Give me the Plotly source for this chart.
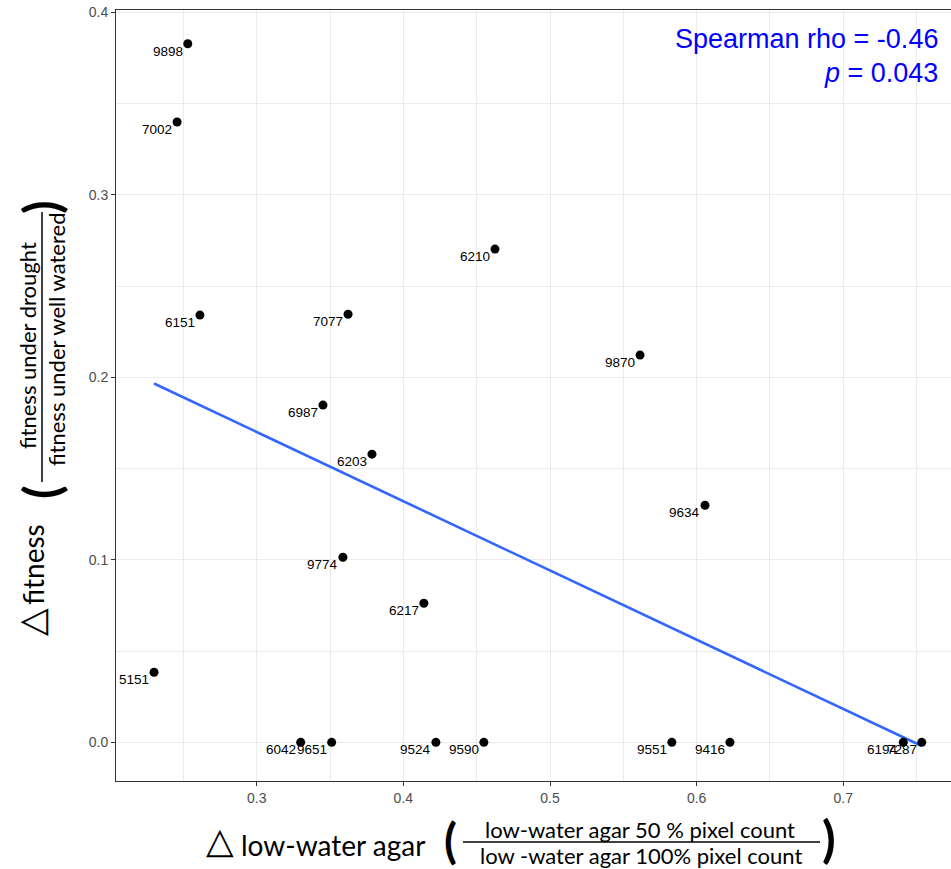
import numpy as np
import plotly.graph_objects as go

# ---- data ----
lines_id = ["9898", "7002", "6210", "6151", "7077", "9870", "6987", "6203", "9634", "9774",
            "6217", "5151", "6042", "9651", "9524", "9590", "9551", "9416", "6194", "7287"]
agar = [0.2530, 0.2457, 0.4625, 0.2613, 0.3623, 0.5614, 0.3452, 0.3786, 0.6057, 0.3588,
        0.4140, 0.2300, 0.3300, 0.3511, 0.4222, 0.4549, 0.5831, 0.6227, 0.7409, 0.7535]
fitness = [0.3828, 0.3399, 0.2703, 0.2341, 0.2346, 0.2122, 0.1848, 0.1579, 0.1299, 0.1014,
           0.0762, 0.0384, 0.0, 0.0, 0.0, 0.0, 0.0, 0.0, 0.0, 0.0]
x_ticks = [0.3, 0.4, 0.5, 0.6, 0.7]
y_ticks = [0.0, 0.1, 0.2, 0.3, 0.4]
stat_line1 = "Spearman rho = -0.46"
stat_line2 = "<i>p</i> = 0.043"

W, H = 951, 869
L, R, T, B = 116, 0, 10, 88
PW, PH = W - L - R, H - T - B


def px(x):
    return (x - L) / PW


def py(y):
    return (H - B - y) / PH


xa = np.array(agar)
ya = np.array(fitness)
slope, icpt = np.polyfit(xa, ya, 1)
xl = np.array([xa.min(), xa.max()])
yl = slope * xl + icpt

fig = go.Figure()
fig.add_trace(go.Scatter(x=xl, y=yl, mode="lines",
                         line=dict(color="#3366FF", width=2.6), hoverinfo="skip"))
fig.add_trace(go.Scatter(x=agar, y=fitness, mode="markers",
                         marker=dict(color="black", size=9)))

title_font = "Lato, Open Sans, sans-serif"
ann = []
# point labels (hjust = 1, vjust = 1 style)
for lab, xv, yv in zip(lines_id, agar, fitness):
    ann.append(dict(x=xv, y=yv, xref="x", yref="y", xanchor="right", yanchor="top",
                    xshift=-3, yshift=2, text=lab, showarrow=False,
                    font=dict(family="Liberation Sans, Arial", size=13.5, color="black")))

# stats
ann.append(dict(x=px(940), y=py(39), xref="paper", yref="paper", xanchor="right", yanchor="middle",
                text=stat_line1, showarrow=False,
                font=dict(family="Liberation Sans, Arial", size=27, color="#0000FF")))
ann.append(dict(x=px(940), y=py(73), xref="paper", yref="paper", xanchor="right", yanchor="middle",
                text=stat_line2, showarrow=False,
                font=dict(family="Liberation Sans, Arial", size=27, color="#0000FF")))


def txt(x, y, s, size, angle=0, family=title_font, weight="normal"):
    ann.append(dict(x=px(x), y=py(y), xref="paper", yref="paper", xanchor="center", yanchor="middle",
                    text=s, showarrow=False, textangle=angle, borderpad=0,
                    font=dict(family=family, size=size, color="black", weight=weight)))


# x-axis title
txt(219.5, 840, "△", 36, family="DejaVu Sans")
txt(333, 845, "low-water agar", 28)
txt(450, 840, "(", 47, weight="bold")
txt(640, 829, "low-water agar 50 % pixel count", 22)
txt(641, 855.5, "low -water agar 100% pixel count", 22)
txt(829, 838, ")", 50, weight="bold")

# y-axis title
txt(31, 622, "△", 36, angle=-90, family="DejaVu Sans")
txt(33, 565, "fitness", 28, angle=-90)
txt(41, 492, "(", 50, angle=-90, weight="bold")
txt(27, 346, "fitness under drought", 22, angle=-90)
txt(56, 340, "fitness under well watered", 22, angle=-90)
txt(41, 207, ")", 50, angle=-90, weight="bold")

shapes = [
    dict(type="line", xref="paper", yref="paper", x0=px(463), x1=px(820), y0=py(842), y1=py(842),
         line=dict(color="black", width=1.5)),
    dict(type="line", xref="paper", yref="paper", x0=px(42), x1=px(42), y0=py(212), y1=py(482),
         line=dict(color="black", width=1.5)),
]

axis_common = dict(showline=True, linecolor="#333333", linewidth=1,
                   ticks="outside", ticklen=4, tickcolor="#333333", tickwidth=1,
                   tickfont=dict(family="Liberation Sans, Arial", size=14, color="#4D4D4D"),
                   showgrid=True, gridcolor="#EBEBEB", gridwidth=1.2, zeroline=False)

fig.update_layout(
    width=W, height=H, autosize=False,
    margin=dict(l=L, r=R, t=T, b=B, pad=0),
    paper_bgcolor="white", plot_bgcolor="white",
    showlegend=False,
    annotations=ann, shapes=shapes,
    xaxis=dict(range=[0.20406, 0.77344], tickvals=x_ticks, ticktext=[f"{v:.1f}" for v in x_ticks],
               mirror=True,
               minor=dict(tickvals=[0.25, 0.35, 0.45, 0.55, 0.65, 0.75], showgrid=True,
                          gridcolor="#EBEBEB", gridwidth=0.6, ticks=""),
               **axis_common),
    yaxis=dict(range=[-0.0212, 0.4013], tickvals=y_ticks, ticktext=[f"{v:.1f}" for v in y_ticks],
               minor=dict(tickvals=[0.05, 0.15, 0.25, 0.35], showgrid=True,
                          gridcolor="#EBEBEB", gridwidth=0.6, ticks=""),
               **axis_common),
)

fig.write_html("out.html")
